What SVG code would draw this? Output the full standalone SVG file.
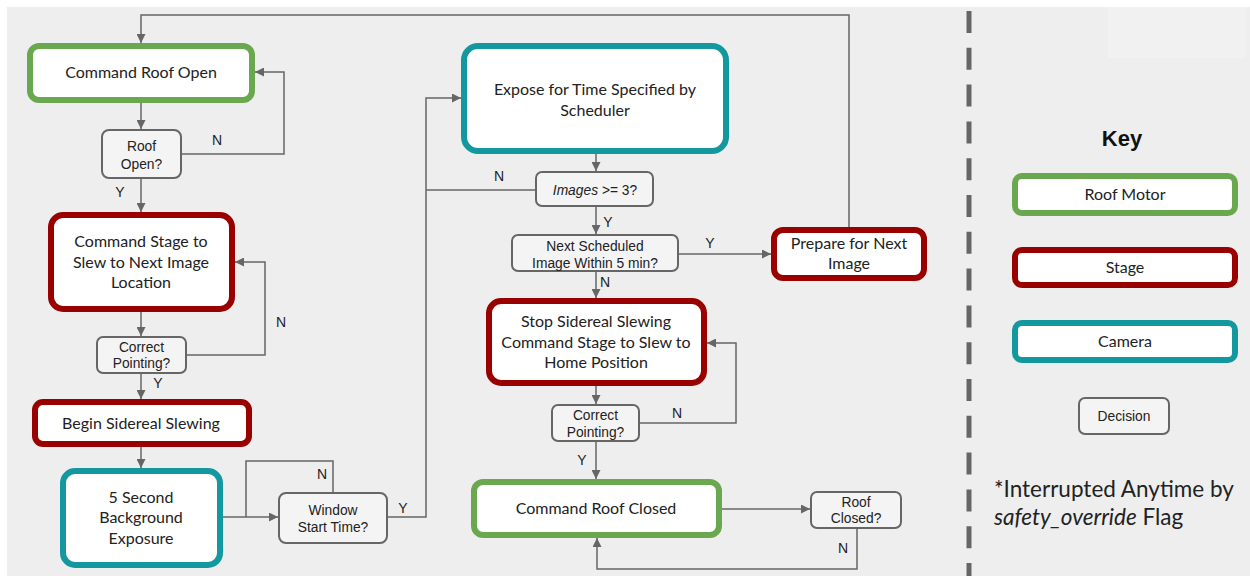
<svg xmlns="http://www.w3.org/2000/svg" width="1250" height="576" viewBox="0 0 1250 576">
<defs>
<marker id="arr" viewBox="0 0 10 10" refX="10" refY="5" markerWidth="9" markerHeight="9" markerUnits="userSpaceOnUse" orient="auto">
<path d="M0,0 L10,5 L0,10 z" fill="#666"/>
</marker>
<style>
.bg{fill:#eeeeee}
.n{fill:#fff;stroke-width:6}
.g{stroke:#6aa84f}
.r{stroke:#990000}
.t{stroke:#14989f}
.d{fill:#f4f4f4;stroke:#666;stroke-width:2}
.nt{font-family:Lato,"Liberation Sans",sans-serif;font-size:16px;fill:#222;text-anchor:middle}
.dt{font-family:"Liberation Sans",Arial,sans-serif;font-size:13.8px;fill:#222;text-anchor:middle}
.lb{font-family:"Liberation Sans",Arial,sans-serif;font-size:14px;fill:#222;text-anchor:middle}
.c{fill:none;stroke:#666;stroke-width:1.5}
</style>
</defs>
<rect x="0" y="0" width="1250" height="576" fill="#fff"/>
<rect class="bg" x="7" y="7" width="1243" height="569"/>
<rect x="1108" y="7" width="138" height="51" fill="#f1f1f1"/>

<g id="connectors">
<path class="c" d="M141,103 V129" marker-end="url(#arr)"/>
<path class="c" d="M182,154 H284 V72 H255" marker-end="url(#arr)"/>
<path class="c" d="M141,179 V212" marker-end="url(#arr)"/>
<path class="c" d="M141,312 V336" marker-end="url(#arr)"/>
<path class="c" d="M187,355 H265 V262 H235" marker-end="url(#arr)"/>
<path class="c" d="M141,374 V399" marker-end="url(#arr)"/>
<path class="c" d="M141,447 V468" marker-end="url(#arr)"/>
<path class="c" d="M223,517 H278" marker-end="url(#arr)"/>
<path class="c" d="M333,492 V461 H246 V517"/>
<path class="c" d="M388,517 H426 V98 H461" marker-end="url(#arr)"/>
<path class="c" d="M535,190 H426"/>
<path class="c" d="M596,154 V171" marker-end="url(#arr)"/>
<path class="c" d="M596,207 V234" marker-end="url(#arr)"/>
<path class="c" d="M679,254 H771" marker-end="url(#arr)"/>
<path class="c" d="M849,227 V15 H141 V43" marker-end="url(#arr)"/>
<path class="c" d="M596,272 V298" marker-end="url(#arr)"/>
<path class="c" d="M596,386 V404" marker-end="url(#arr)"/>
<path class="c" d="M640,423 H736 V343 H707" marker-end="url(#arr)"/>
<path class="c" d="M596,442 V479" marker-end="url(#arr)"/>
<path class="c" d="M722,509 H810" marker-end="url(#arr)"/>
<path class="c" d="M857,528 V569 H597 V538" marker-end="url(#arr)"/>
<text class="lb" x="217" y="145">N</text>
<text class="lb" x="120" y="197">Y</text>
<text class="lb" x="281" y="327">N</text>
<text class="lb" x="158" y="388">Y</text>
<text class="lb" x="322" y="479">N</text>
<text class="lb" x="403" y="513">Y</text>
<text class="lb" x="499" y="181">N</text>
<text class="lb" x="608" y="227">Y</text>
<text class="lb" x="710" y="248">Y</text>
<text class="lb" x="605" y="287">N</text>
<text class="lb" x="677" y="418">N</text>
<text class="lb" x="582" y="465">Y</text>
<text class="lb" x="843" y="553">N</text>
</g>

<g id="roof-open">
<rect class="n g" x="30" y="46" width="222" height="54" rx="9"/>
<text class="nt" x="141" y="77.5">Command Roof Open</text>
</g>
<g id="roof-open-check">
<rect class="d" x="102" y="130" width="79" height="48" rx="7"/>
<text class="dt" x="141.5" y="150.5">Roof</text>
<text class="dt" x="141.5" y="168.5">Open?</text>
</g>
<g id="stage-slew">
<rect class="n r" x="51" y="215" width="181" height="94" rx="12"/>
<text class="nt" x="141" y="246.5">Command Stage to</text>
<text class="nt" x="141" y="267.5">Slew to Next Image</text>
<text class="nt" x="141" y="287.5">Location</text>
</g>
<g id="pointing-check-1">
<rect class="d" x="97" y="337" width="89" height="36" rx="6"/>
<text class="dt" x="141.5" y="351.5">Correct</text>
<text class="dt" x="141.5" y="367.5">Pointing?</text>
</g>
<g id="sidereal">
<rect class="n r" x="35" y="402" width="214" height="42" rx="8"/>
<text class="nt" x="141" y="428.5">Begin Sidereal Slewing</text>
</g>
<g id="background-exposure">
<rect class="n t" x="63" y="471" width="157" height="94" rx="12"/>
<text class="nt" x="141" y="502.5">5 Second</text>
<text class="nt" x="141" y="522.5">Background</text>
<text class="nt" x="141" y="543.5">Exposure</text>
</g>
<g id="window-check">
<rect class="d" x="279" y="493" width="108" height="50" rx="7"/>
<text class="dt" x="333" y="514.5">Window</text>
<text class="dt" x="333" y="531.5">Start Time?</text>
</g>
<g id="expose">
<rect class="n t" x="464" y="46" width="262" height="105" rx="14"/>
<text class="nt" x="595" y="94.5">Expose for Time Specified by</text>
<text class="nt" x="595" y="115.5">Scheduler</text>
</g>
<g id="images-check">
<rect class="d" x="536" y="172" width="117" height="34" rx="6"/>
<text class="dt" x="595" y="194.5"><tspan font-style="italic">Images</tspan> &gt;= 3?</text>
</g>
<g id="next-check">
<rect class="d" x="512" y="235" width="166" height="36" rx="6"/>
<text class="dt" x="595" y="250.5">Next Scheduled</text>
<text class="dt" x="595" y="267.5">Image Within 5 min?</text>
</g>
<g id="prepare">
<rect class="n r" x="774" y="230" width="150" height="48" rx="9"/>
<text class="nt" x="849" y="248.5">Prepare for Next</text>
<text class="nt" x="849" y="268.5">Image</text>
</g>
<g id="stop-sidereal">
<rect class="n r" x="489" y="301" width="215" height="82" rx="12"/>
<text class="nt" x="596" y="326.5">Stop Sidereal Slewing</text>
<text class="nt" x="596" y="347.5">Command Stage to Slew to</text>
<text class="nt" x="596" y="367.5">Home Position</text>
</g>
<g id="pointing-check-2">
<rect class="d" x="552" y="405" width="87" height="36" rx="6"/>
<text class="dt" x="595.5" y="419.5">Correct</text>
<text class="dt" x="595.5" y="436.5">Pointing?</text>
</g>
<g id="roof-close">
<rect class="n g" x="474" y="482" width="245" height="53" rx="9"/>
<text class="nt" x="596" y="513.5">Command Roof Closed</text>
</g>
<g id="roof-closed-check">
<rect class="d" x="811" y="492" width="90" height="36" rx="6"/>
<text class="dt" x="856" y="506.5">Roof</text>
<text class="dt" x="856" y="522.5">Closed?</text>
</g>

<g id="divider">
<line x1="969" y1="11" x2="969" y2="576" stroke="#666" stroke-width="5" stroke-dasharray="22 14.8"/>
</g>
<g id="key">
<text x="1122" y="146" font-family="Liberation Sans,Arial,sans-serif" font-size="22" font-weight="bold" fill="#111" text-anchor="middle">Key</text>
<rect class="n g" x="1015" y="176" width="220" height="37" rx="7"/>
<text class="nt" x="1125" y="200">Roof Motor</text>
<rect class="n r" x="1015" y="250" width="220" height="35" rx="7"/>
<text class="nt" x="1125" y="273">Stage</text>
<rect class="n t" x="1015" y="323" width="220" height="37" rx="7"/>
<text class="nt" x="1125" y="347">Camera</text>
<rect class="d" x="1079" y="398" width="90" height="36" rx="6"/>
<text class="dt" x="1124" y="420.5">Decision</text>
<text x="994" y="497" font-family="Lato,Liberation Sans,sans-serif" font-size="22.5" fill="#222">*Interrupted Anytime by</text>
<text x="994" y="525" font-family="Lato,Liberation Sans,sans-serif" font-size="22.5" fill="#222"><tspan font-style="italic">safety_override</tspan> Flag</text>
</g>
</svg>
